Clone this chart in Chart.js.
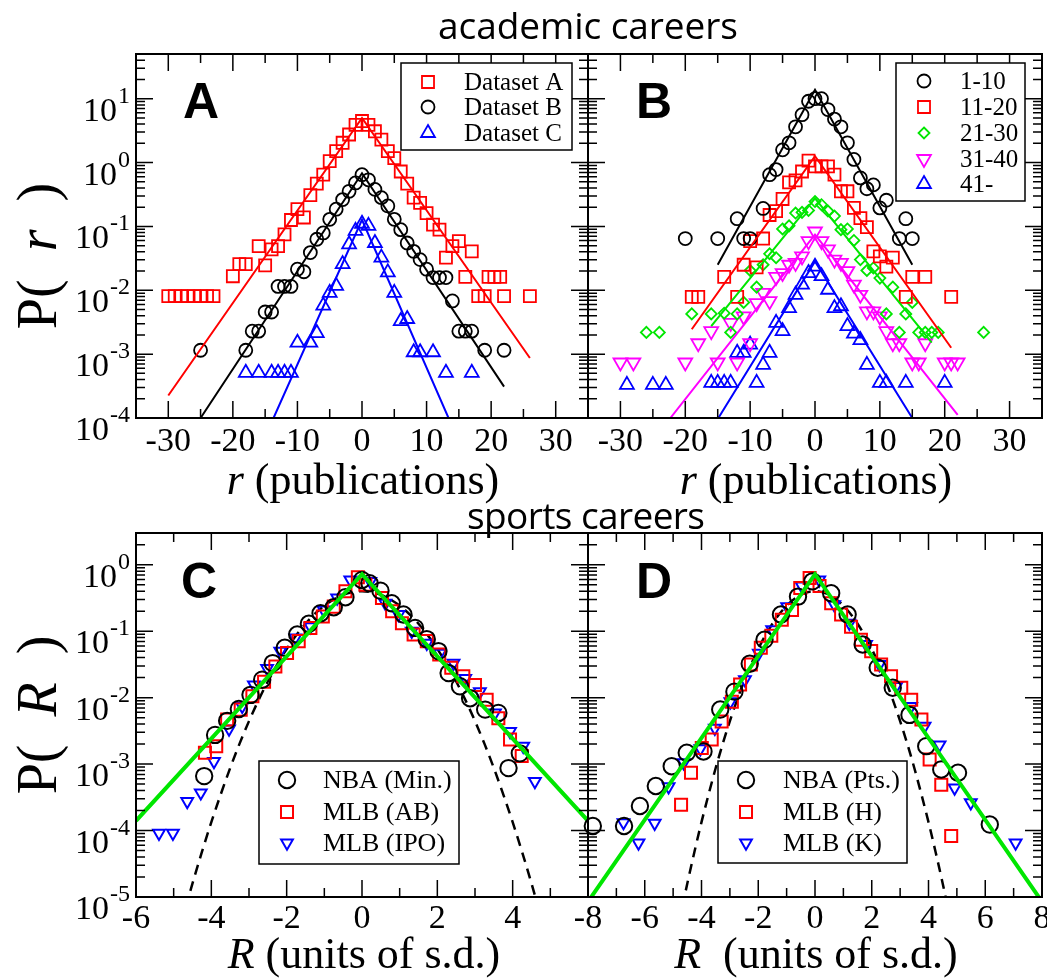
<!DOCTYPE html>
<html><head><meta charset="utf-8">
<script src="https://cdn.jsdelivr.net/npm/chart.js@4.4.1/dist/chart.umd.min.js"></script>
<style>
html,body{margin:0;padding:0;background:#fff;width:1047px;height:978px;overflow:hidden;position:relative;}
canvas{position:absolute;}
svg{position:absolute;left:0;top:0;pointer-events:none;}
</style></head>
<body>
<canvas id="cA" width="600" height="520" style="left:0;top:0"></canvas>
<canvas id="cB" width="500" height="520" style="left:560px;top:0"></canvas>
<canvas id="cC" width="600" height="478" style="left:0;top:500px"></canvas>
<canvas id="cD" width="500" height="478" style="left:560px;top:500px"></canvas>
<svg width="1047" height="978">
 <g font-family="'Open Sans',sans-serif" font-size="37" fill="#000" text-anchor="middle">
  <text x="588" y="39" textLength="300">academic careers</text>
  <text x="586" y="529" textLength="238">sports careers</text>
 </g>
 <g font-family="'Liberation Sans',Arial,sans-serif" font-weight="bold" font-size="50" fill="#000">
  <text x="183" y="118">A</text>
  <text x="636" y="118">B</text>
  <text x="181" y="598">C</text>
  <text x="636" y="598">D</text>
 </g>
 <g font-family="'Liberation Serif','Times New Roman',serif" font-size="44" fill="#000" text-anchor="middle">
  <text x="363" y="494"><tspan font-style="italic">r</tspan> (publications)</text>
  <text x="816" y="494"><tspan font-style="italic">r</tspan> (publications)</text>
  <text x="364" y="968"><tspan font-style="italic">R</tspan> (units of s.d.)</text>
  <text x="816" y="968"><tspan font-style="italic">R</tspan>&#160; (units of s.d.)</text>
 </g>
 <g font-family="'Liberation Serif','Times New Roman',serif" font-size="56" fill="#000" text-anchor="middle">
  <text transform="translate(56,256) rotate(-90)">P(&#160;&#160;<tspan font-style="italic">r</tspan>&#160;&#160;)</text>
  <text transform="translate(56,715) rotate(-90)">P(&#160;&#160;<tspan font-style="italic">R</tspan>&#160;&#160;)</text>
 </g>
</svg>
<script>
// ---------- tick labels ----------
const xTicksAB = [-30, -20, -10, 0, 10, 20, 30];
const xTicksC = [-6, -4, -2, 0, 2, 4];
const xTicksD = [-8, -6, -4, -2, 0, 2, 4, 6, 8];
const yDecadesA = [-4, -3, -2, -1, 0, 1];
const yDecadesC = [-5, -4, -3, -2, -1, 0];

// ---------- Panel A ----------
const aLabels = ['Dataset A', 'Dataset B', 'Dataset C'];
const dsA_x = [-30,-29,-28,-27,-26,-25,-24,-23,-20,-19,-18,-16,-15,-14,-13,-12,-11,-10,-9,-8,-7,-6,-5,-4,-3,-2,-1,0,1,2,3,4,5,6,7,8,9,10,11,12,13,14,15,16,17,18,19,19.6,20.5,21.4,22,26];
const dsA_p = [0.0081,0.0081,0.0081,0.0081,0.0081,0.0081,0.0081,0.0081,0.0166,0.0257,0.0257,0.049,0.0245,0.0437,0.049,0.075,0.126,0.186,0.138,0.309,0.468,0.646,1.05,1.51,2.04,2.75,3.89,4.47,3.89,3.09,2.29,1.51,1.17,0.724,0.468,0.282,0.234,0.162,0.107,0.089,0.0324,0.049,0.0589,0.0162,0.0407,0.0081,0.0081,0.0162,0.0162,0.0162,0.0081,0.0081];
const dsB_x = [-25,-18,-17,-16,-15,-14,-13,-12,-11,-10,-9,-8,-7,-6,-5,-4,-3,-2,-1,0,1,2,3,4,5,6,7,8,9,10,11,12,13,14,15,16,17,19,22];
const dsB_p = [0.00115,0.00115,0.00229,0.00229,0.00457,0.00457,0.0115,0.0115,0.0115,0.0214,0.0195,0.0389,0.063,0.079,0.129,0.186,0.263,0.355,0.479,0.646,0.537,0.380,0.282,0.209,0.129,0.089,0.055,0.0407,0.0302,0.0214,0.0158,0.0158,0.0158,0.0068,0.00229,0.00229,0.00229,0.00115,0.00115];
const dsC_x = [-18,-16,-14,-13,-12,-11,-10,-8,-7,-6,-5,-4,-3,-2,-1,0,1,2,3,4,5,6,7,8,9,11,13,17];
const dsC_p = [5.1e-4,5.1e-4,5.1e-4,5.1e-4,5.1e-4,5.1e-4,0.00151,0.00151,0.00214,0.00575,0.0091,0.0117,0.0257,0.0525,0.0851,0.110,0.102,0.055,0.0324,0.0191,0.0091,0.0033,0.00355,0.00107,0.00107,0.00107,5.1e-4,5.1e-4];
const fitA_x = [-30, 0, 26],     fitA_p = [2.25e-4, 5.0, 8.7e-4];
const fitB_x = [-25, 0, 22],     fitB_p = [1.0e-4, 0.68, 3.1e-4];
const fitC_x = [-13.7, 0, 13.4], fitC_p = [1.0e-4, 0.127, 1.0e-4];

// ---------- Panel B ----------
const bLabels = ['1-10', '11-20', '21-30', '31-40', '41-'];
const b1_x = [-20,-15,-12,-11,-10,-8,-7,-6,-5,-4,-3,-2,-1,0,1,2,3,4,5,6,7,8,9,10,11,13,14,15];
const b1_p = [0.0646,0.0646,0.132,0.0646,0.0646,0.191,0.646,0.776,1.58,2.04,3.63,5.62,9.12,10.0,10.0,6.76,4.79,3.63,2.04,1.12,0.575,0.389,0.447,0.195,0.257,0.0646,0.132,0.0646];
const b2_x = [-19,-18,-14,-12,-11,-10,-9,-8,-7,-6,-5,-4,-3,-2,-1,0,1,2,3,4,5,6,7,8,9,10,11,12,14,15,17,21];
const b2_p = [0.0079,0.0079,0.0162,0.0079,0.0251,0.0589,0.0229,0.0646,0.151,0.174,0.269,0.490,0.525,0.724,1.07,0.871,0.871,0.871,0.646,0.355,0.355,0.195,0.135,0.0977,0.0407,0.0339,0.0234,0.0324,0.0079,0.0162,0.0162,0.0079];
const b3_x = [-26,-24,-19,-16,-14,-13,-12,-11,-10,-9,-8,-7,-6,-5,-4,-3,-2,-1,0,1,2,3,4,5,6,7,8,9,10,11,12,13,14,15,16,17,18,19,26];
const b3_p = [0.00219,0.00219,0.00427,0.00427,0.00437,0.00219,0.00427,0.00646,0.0204,0.0112,0.0251,0.0372,0.0324,0.0912,0.102,0.162,0.166,0.178,0.245,0.219,0.174,0.145,0.089,0.0912,0.0603,0.0302,0.0204,0.0224,0.0155,0.00427,0.0112,0.00219,0.00427,0.00646,0.00219,0.00219,0.00219,0.00219,0.00219];
const b4_x = [-30,-28,-20,-18,-16,-15,-13,-12,-11,-10,-9,-8,-7,-6,-5,-4,-3,-2,-1,0,1,2,3,4,5,6,7,8,9,10,11,12,13,15,16,17,20,21,22];
const b4_p = [7.4e-4,7.4e-4,7.4e-4,0.00148,0.00229,7.4e-4,0.00309,7.4e-4,0.00389,0.00148,0.0063,0.0091,0.00676,0.0162,0.0186,0.0251,0.0269,0.0339,0.0589,0.0832,0.0589,0.0437,0.0302,0.0269,0.02,0.0123,0.0085,0.00468,0.00468,0.00389,0.00229,0.00148,0.00148,7.4e-4,7.4e-4,0.00148,7.4e-4,7.4e-4,7.4e-4];
const b5_x = [-29,-25,-23,-16,-15,-14,-13,-12,-11,-10,-9,-8,-7,-6,-5,-4,-3,-2,-1,0,1,2,3,4,5,6,7,8,10,11,14,20];
const b5_p = [3.3e-4,3.3e-4,3.3e-4,3.55e-4,3.55e-4,3.55e-4,3.55e-4,0.00105,0.00105,0.00141,3.55e-4,6.8e-4,0.00105,0.00309,0.00229,0.00525,0.0085,0.0123,0.0186,0.0234,0.0166,0.0102,0.00525,0.00562,0.00275,0.00209,0.00166,6.8e-4,3.55e-4,3.55e-4,3.55e-4,3.55e-4];
const fitB1_x = [-15, 0, 15],    fitB1_p = [0.0251, 13.8, 0.0251];
const fitB2_x = [-19, 0, 21],    fitB2_p = [0.00245, 1.26, 0.00126];
const fitB3_x = [-16, 0, 18],    fitB3_p = [0.00275, 0.275, 0.00151];
const fitB4_x = [-22.3, 0, 22],  fitB4_p = [1.0e-4, 0.0741, 1.12e-4];
const fitB5_x = [-14.9, 0, 15],  fitB5_p = [1.0e-4, 0.0282, 1.0e-4];

// ---------- Panel C ----------
const cLabels = ['NBA (Min.)', 'MLB (AB)', 'MLB (IPO)'];
const cNba_x = [-4.19,-3.90,-3.58,-3.27,-2.96,-2.65,-2.37,-2.05,-1.72,-1.41,-1.10,-0.75,-0.44,0,0.2,0.49,0.79,1.10,1.41,1.72,2.03,2.30,2.6,2.87,3.27,3.62,3.89,4.19];
const cNba_p = [6.6e-4,0.00275,0.00447,0.00676,0.011,0.0186,0.0331,0.0562,0.0891,0.129,0.186,0.229,0.324,0.59,0.525,0.407,0.263,0.178,0.112,0.0759,0.0501,0.0234,0.0148,0.0098,0.0066,0.00589,8.7e-4,0.00145];
const cAb_x = [-4.17,-3.87,-3.58,-3.22,-2.91,-2.60,-2.30,-1.99,-1.68,-1.37,-1.04,-0.75,-0.44,-0.11,0.09,0.53,0.80,1.06,1.37,1.72,2.05,2.37,2.69,3.00,3.31,3.62,3.93,4.24];
const cAb_p = [0.00148,0.00186,0.00468,0.0066,0.0105,0.0174,0.0295,0.0468,0.0708,0.112,0.166,0.234,0.398,0.646,0.501,0.316,0.200,0.132,0.0891,0.0708,0.0447,0.0282,0.0209,0.0155,0.0093,0.0049,0.00234,0.00132];
const cIpo_x = [-5.39,-5.02,-4.64,-4.28,-3.93,-3.53,-3.18,-2.87,-2.52,-2.17,-1.77,-1.37,-1.02,-0.66,-0.31,0.22,0.62,0.97,1.32,1.72,2.07,2.43,2.74,3.13,3.53,3.93,4.28,4.59];
const cIpo_p = [9.1e-5,9.1e-5,2.75e-4,3.7e-4,0.0011,0.00339,0.00741,0.0155,0.0275,0.0501,0.0794,0.117,0.209,0.316,0.589,0.562,0.263,0.178,0.1,0.0661,0.0468,0.0331,0.0195,0.0123,0.00589,0.00309,0.00186,5.5e-4];
const lapC_x = [-6, 0, 6], lapC_p = [1.4e-4, 0.72, 1.4e-4];
const gauss_x = [-4.8,-4.5,-4.25,-4,-3.75,-3.5,-3.25,-3,-2.75,-2.5,-2,-1.5,-1,-0.5,0,0.5,1,1.5,2,2.5,2.75,3,3.25,3.5,3.75,4,4.25,4.5,4.8];
const gauss_p = [3.95e-6,1.6e-5,4.76e-5,1.34e-4,3.5e-4,8.73e-4,2.03e-3,4.43e-3,9.1e-3,0.0175,0.054,0.1295,0.242,0.352,0.399,0.352,0.242,0.1295,0.054,0.0175,9.1e-3,4.43e-3,2.03e-3,8.73e-4,3.5e-4,1.34e-4,4.76e-5,1.6e-5,3.95e-6];

// ---------- Panel D ----------
const dLabels = ['NBA (Pts.)', 'MLB (H)', 'MLB (K)'];
const dNba_x = [-7.83,-6.73,-6.17,-5.61,-5.05,-4.52,-3.93,-3.34,-2.84,-2.30,-1.78,-1.20,-0.60,-0.09,0.57,1.15,1.68,2.21,2.74,3.33,3.92,4.45,5.04,6.16];
const dNba_p = [1.17e-4,1.17e-4,2.34e-4,4.68e-4,9.3e-4,0.00148,0.00155,0.00661,0.0123,0.0324,0.0741,0.178,0.331,0.562,0.372,0.178,0.0631,0.0282,0.0141,0.0055,0.00186,8.3e-4,7.4e-4,1.23e-4];
const dH_x = [-4.72,-4.37,-3.99,-3.64,-3.29,-2.93,-2.64,-2.26,-1.91,-1.54,-1.17,-0.81,-0.52,-0.19,0.16,0.57,0.92,1.27,1.62,1.98,2.33,2.68,3.04,3.39,3.75,4.04,4.45,4.80];
const dH_p = [2.45e-4,7.4e-4,0.00174,0.00234,0.00437,0.0087,0.0158,0.0316,0.0562,0.0851,0.148,0.209,0.447,0.631,0.479,0.263,0.178,0.117,0.0741,0.0501,0.0316,0.0209,0.0141,0.0093,0.00468,0.00117,4.9e-4,8.3e-5];
const dK_x = [-6.75,-6.22,-5.65,-5.16,-4.63,-4.04,-3.53,-2.98,-2.47,-1.98,-1.51,-0.98,-0.47,0.15,0.68,1.21,1.80,2.27,2.86,3.39,3.86,4.39,4.92,5.49,7.07];
const dK_p = [1.32e-4,6.5e-5,1.29e-4,4.57e-4,0.00105,0.0017,0.00347,0.0087,0.0186,0.0468,0.105,0.234,0.479,0.589,0.251,0.132,0.063,0.0316,0.0148,0.00741,0.00372,0.00195,4.37e-4,2.63e-4,6.5e-5];
const lapD_x = [-8, 0, 8], lapD_p = [8.5e-6, 0.72, 8.5e-6];

// ---------- helpers ----------
const SERIF = "'Liberation Serif','Times New Roman',serif";
const RED = '#ff0000', BLUE = '#0000ff', BLACK = '#000000', GREEN = '#00e600', MAG = '#ff00ff';
const TICK_FONT = 34;

function xy(xs, ys) { return xs.map((x, i) => ({x: x, y: ys[i]})); }
function pts(label, xs, ys, color, style, r, rot, bw) {
  return {label, data: xy(xs, ys), showLine: false, pointStyle: style, pointRotation: rot || 0,
    pointRadius: r, pointHoverRadius: r, pointBorderColor: color, pointBackgroundColor: 'rgba(0,0,0,0)',
    pointBorderWidth: bw || 1.8, borderColor: color, backgroundColor: 'rgba(0,0,0,0)', clip: false, order: 2};
}
function line(label, xs, ys, color, w, dash, order, smooth) {
  return {label, data: xy(xs, ys), showLine: true, pointRadius: 0, pointHoverRadius: 0,
    borderColor: color, backgroundColor: color, borderWidth: w, borderDash: dash || [], fill: false,
    order: order, tension: 0, cubicInterpolationMode: smooth ? 'monotone' : 'default'};
}
function marker(ctx, style, r, rot, x, y) {
  ctx.beginPath();
  if (style === 'circle') ctx.arc(x, y, r, 0, Math.PI * 2);
  else if (style === 'rect') { const s = r * Math.SQRT1_2; ctx.rect(x - s, y - s, 2 * s, 2 * s); }
  else if (style === 'rectRot') { ctx.moveTo(x, y - r); ctx.lineTo(x + r, y); ctx.lineTo(x, y + r); ctx.lineTo(x - r, y); ctx.closePath(); }
  else if (style === 'triangle') {
    const d = (rot || 0) * Math.PI / 180;
    for (let i = 0; i < 3; i++) { const a = d + i * 2 * Math.PI / 3; const px = x + Math.sin(a) * r, py = y - Math.cos(a) * r; if (i) ctx.lineTo(px, py); else ctx.moveTo(px, py); }
    ctx.closePath();
  }
  ctx.stroke();
}
function isMult(v, step) { const q = v / step; return Math.abs(q - Math.round(q)) < 1e-6; }

function decorPlugin(o) {
  return {
    id: 'decor',
    afterDraw(chart) {
      const ctx = chart.ctx, a = chart.chartArea, xs = chart.scales.x, ys = chart.scales.y;
      ctx.save();
      ctx.strokeStyle = '#000';
      ctx.lineWidth = 1.5;
      ctx.beginPath();
      for (const t of xs.ticks) {
        const px = xs.getPixelForValue(t.value);
        if (px <= a.left + 1 || px >= a.right - 1) continue;
        const L = isMult(t.value, o.xMajor) ? 17 : 9;
        ctx.moveTo(px, a.bottom); ctx.lineTo(px, a.bottom - L);
        ctx.moveTo(px, a.top); ctx.lineTo(px, a.top + L);
      }
      const e0 = Math.floor(Math.log10(o.ymin)), e1 = Math.ceil(Math.log10(o.ymax));
      for (let e = e0; e <= e1; e++) {
        for (let m = 1; m <= 9; m++) {
          const v = m * Math.pow(10, e);
          const py = ys.getPixelForValue(v);
          if (py >= a.bottom - 1 || py <= a.top + 1) continue;
          const L = m === 1 ? 17 : 9;
          ctx.moveTo(a.left, py); ctx.lineTo(a.left + L, py);
          ctx.moveTo(a.right, py); ctx.lineTo(a.right - L, py);
        }
      }
      ctx.stroke();
      ctx.lineWidth = 2;
      ctx.strokeRect(a.left, a.top, a.right - a.left, a.bottom - a.top);
      if (o.yDecades) {
        ctx.fillStyle = '#000';
        ctx.textBaseline = 'alphabetic';
        for (const e of o.yDecades) {
          const py = ys.getPixelForValue(Math.pow(10, e));
          const exp = String(e);
          ctx.font = '24px ' + SERIF;
          const we = ctx.measureText(exp).width;
          const X = 130 - o.ox;
          ctx.textAlign = 'left';
          ctx.fillText(exp, X - we, py + 4);
          ctx.font = TICK_FONT + 'px ' + SERIF;
          ctx.textAlign = 'right';
          ctx.fillText('10', X - we - 1, py + 22);
        }
      }
      const L = o.legend;
      if (L) {
        const bx0 = L.box[0] - o.ox, by0 = L.box[1] - o.oy, bx1 = L.box[2] - o.ox, by1 = L.box[3] - o.oy;
        ctx.fillStyle = '#fff';
        ctx.fillRect(bx0, by0, bx1 - bx0, by1 - by0);
        ctx.lineWidth = 1.5;
        ctx.strokeStyle = '#000';
        ctx.strokeRect(bx0, by0, bx1 - bx0, by1 - by0);
        ctx.font = L.size + 'px ' + SERIF;
        ctx.textAlign = 'left';
        ctx.textBaseline = 'middle';
        L.items.forEach((it, i) => {
          const ry = L.rows[i] - o.oy;
          ctx.strokeStyle = it.color;
          ctx.lineWidth = it.bw || 1.8;
          marker(ctx, it.style, it.r, it.rot, L.symX - o.ox, ry);
          ctx.fillStyle = '#000';
          ctx.fillText(it.text, L.textX - o.ox, ry + 1);
        });
      }
      ctx.restore();
    }
  };
}

function makeChart(id, o) {
  return new Chart(document.getElementById(id), {
    type: 'scatter',
    data: {datasets: o.datasets},
    options: {
      responsive: false, animation: false, devicePixelRatio: 1, events: [],
      layout: {padding: {left: 0, top: o.padTop, right: o.padRight, bottom: 0}},
      plugins: {legend: {display: false}, tooltip: {enabled: false}, title: {display: false}},
      scales: {
        x: {type: 'linear', position: 'bottom', min: o.xmin, max: o.xmax,
          grid: {display: false, drawTicks: false}, border: {display: false},
          ticks: {stepSize: o.xstep, autoSkip: false, maxRotation: 0, minRotation: 0, padding: o.xpad,
            color: '#000', font: {family: SERIF, size: TICK_FONT},
            callback: v => { const r = Math.round(v); return (Math.abs(v - r) < 1e-6 && o.xLabels.indexOf(r) >= 0) ? String(r) : ''; }},
          afterFit: s => { s.height = o.xH; }},
        y: {type: 'logarithmic', position: 'left', min: o.ymin, max: o.ymax,
          grid: {display: false, drawTicks: false}, border: {display: false},
          ticks: {display: false},
          afterFit: s => { s.width = o.yW; }}
      }
    },
    plugins: [decorPlugin(o)]
  });
}

makeChart('cA', {
  ox: 0, oy: 0, padTop: 54, padRight: 12, yW: 136, xH: 102, xpad: 4,
  xmin: -35, xmax: 35, xstep: 5, xMajor: 10, xLabels: xTicksAB,
  ymin: 1e-4, ymax: 50.1, yDecades: yDecadesA,
  datasets: [
    line('fit A', fitA_x, fitA_p, RED, 2, null, 1),
    line('fit B', fitB_x, fitB_p, BLACK, 2, null, 1),
    line('fit C', fitC_x, fitC_p, BLUE, 2, null, 1),
    pts(aLabels[0], dsA_x, dsA_p, RED, 'rect', 8.5),
    pts(aLabels[1], dsB_x, dsB_p, BLACK, 'circle', 6.5),
    pts(aLabels[2], dsC_x, dsC_p, BLUE, 'triangle', 8)
  ],
  legend: {box: [401, 63, 572, 150], symX: 428, textX: 464, rows: [82, 107, 133], size: 25,
    items: [{style: 'rect', r: 8.5, color: RED, text: aLabels[0]},
            {style: 'circle', r: 6.5, color: BLACK, text: aLabels[1]},
            {style: 'triangle', r: 8, color: BLUE, text: aLabels[2]}]}
});

makeChart('cB', {
  ox: 560, oy: 0, padTop: 54, padRight: 18, yW: 28, xH: 102, xpad: 4,
  xmin: -35, xmax: 35, xstep: 5, xMajor: 10, xLabels: xTicksAB,
  ymin: 1e-4, ymax: 50.1, yDecades: null,
  datasets: [
    line('fit 1-10', fitB1_x, fitB1_p, BLACK, 2, null, 1),
    line('fit 11-20', fitB2_x, fitB2_p, RED, 2, null, 1),
    line('fit 21-30', fitB3_x, fitB3_p, GREEN, 2, null, 1),
    line('fit 31-40', fitB4_x, fitB4_p, MAG, 2, null, 1),
    line('fit 41-', fitB5_x, fitB5_p, BLUE, 2, null, 1),
    pts(bLabels[0], b1_x, b1_p, BLACK, 'circle', 6.5),
    pts(bLabels[1], b2_x, b2_p, RED, 'rect', 8.5),
    pts(bLabels[2], b3_x, b3_p, GREEN, 'rectRot', 5.5),
    pts(bLabels[3], b4_x, b4_p, MAG, 'triangle', 8, 180),
    pts(bLabels[4], b5_x, b5_p, BLUE, 'triangle', 8)
  ],
  legend: {box: [896, 63, 1025, 201], symX: 924, textX: 960, rows: [81, 107, 133, 159, 184], size: 25,
    items: [{style: 'circle', r: 6.5, color: BLACK, text: bLabels[0]},
            {style: 'rect', r: 8.5, color: RED, text: bLabels[1]},
            {style: 'rectRot', r: 5.5, color: GREEN, text: bLabels[2]},
            {style: 'triangle', r: 8, rot: 180, color: MAG, text: bLabels[3]},
            {style: 'triangle', r: 8, color: BLUE, text: bLabels[4]}]}
});

makeChart('cC', {
  ox: 0, oy: 500, padTop: 33, padRight: 12, yW: 136, xH: 81, xpad: 2,
  xmin: -6, xmax: 6, xstep: 1, xMajor: 2, xLabels: xTicksC,
  ymin: 1e-5, ymax: 3.0, yDecades: yDecadesC,
  datasets: [
    line('Laplace', lapC_x, lapC_p, GREEN, 4, null, 0),
    line('Gaussian', gauss_x, gauss_p, BLACK, 2.5, [10, 7], 5, true),
    pts(cLabels[0], cNba_x, cNba_p, BLACK, 'circle', 8.2, 0, 2),
    pts(cLabels[1], cAb_x, cAb_p, RED, 'rect', 8.5, 0, 2),
    pts(cLabels[2], cIpo_x, cIpo_p, BLUE, 'triangle', 6.8, 180, 2)
  ],
  legend: {box: [259, 761, 459, 864], symX: 287, textX: 323, rows: [780, 812, 843], size: 26,
    items: [{style: 'circle', r: 8.2, color: BLACK, text: cLabels[0], bw: 2},
            {style: 'rect', r: 8.5, color: RED, text: cLabels[1], bw: 2},
            {style: 'triangle', r: 6.8, rot: 180, color: BLUE, text: cLabels[2], bw: 2}]}
});

makeChart('cD', {
  ox: 560, oy: 500, padTop: 33, padRight: 18, yW: 28, xH: 81, xpad: 2,
  xmin: -8, xmax: 8, xstep: 1, xMajor: 2, xLabels: xTicksD,
  ymin: 1e-5, ymax: 3.0, yDecades: null,
  datasets: [
    line('Laplace', lapD_x, lapD_p, GREEN, 4, null, 0),
    line('Gaussian', gauss_x, gauss_p, BLACK, 2.5, [10, 7], 5, true),
    pts(dLabels[0], dNba_x, dNba_p, BLACK, 'circle', 8.2, 0, 2),
    pts(dLabels[1], dH_x, dH_p, RED, 'rect', 8.5, 0, 2),
    pts(dLabels[2], dK_x, dK_p, BLUE, 'triangle', 6.8, 180, 2)
  ],
  legend: {box: [718, 761, 907, 863], symX: 746, textX: 783, rows: [780, 812, 843], size: 26,
    items: [{style: 'circle', r: 8.2, color: BLACK, text: dLabels[0], bw: 2},
            {style: 'rect', r: 8.5, color: RED, text: dLabels[1], bw: 2},
            {style: 'triangle', r: 6.8, rot: 180, color: BLUE, text: dLabels[2], bw: 2}]}
});
</script>
</body></html>
